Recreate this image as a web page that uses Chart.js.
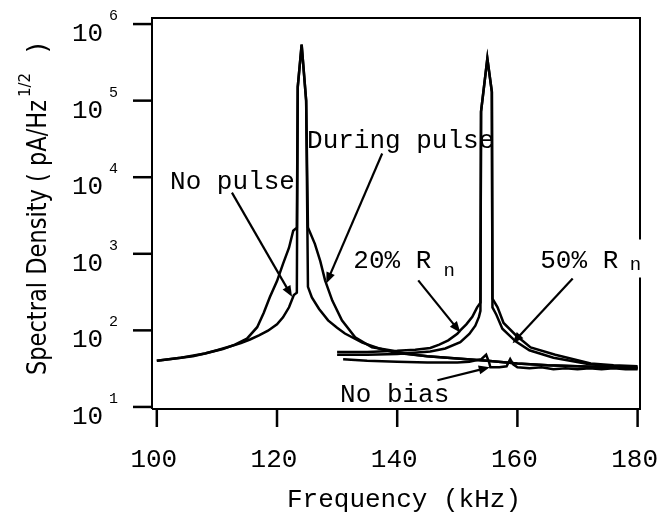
<!DOCTYPE html>
<html>
<head>
<meta charset="utf-8">
<script src="https://cdn.jsdelivr.net/npm/chart.js@4.4.1/dist/chart.umd.min.js"></script>
<style>
  body { margin: 0; background: #fff; }
  #wrap { width: 660px; height: 517px; position: relative; }
</style>
</head>
<body>
<div id="wrap"><canvas id="spectrum"></canvas></div>
<script>
// Frequency (kHz) and spectral density (pA/Hz^1/2)
const noPulseFreq = [100, 102, 104, 106, 108, 110, 112, 114, 115.5, 117, 118.5, 120, 121, 122, 122.8, 123.3, 123.45, 124.1, 124.85, 125.15, 125.8, 127, 128.5, 130, 131.3, 134.2, 137, 139.7, 145, 150, 155, 160, 165, 170, 175, 180];
const noPulseVal  = [40, 42, 44, 46, 50, 55, 61, 68, 76, 86, 99, 120, 148, 200, 290, 310, 150000, 540000, 100000, 370, 270, 190, 135, 108, 91, 69, 58, 51, 46, 43, 40, 37, 35, 34, 33, 33];

const duringFreq = [100, 104, 108, 111, 113, 115, 116.7, 117.8, 118.8, 120, 121, 122, 122.7, 123.3, 123.45, 124.1, 124.85, 125.15, 126.3, 127.2, 128, 129.2, 130.8, 133, 135.8, 138.8, 141.3, 145, 150, 155, 160, 165, 170, 175, 180];
const duringVal  = [40, 44, 50, 57, 65, 78, 110, 170, 270, 440, 740, 1200, 2000, 2200, 150000, 540000, 100000, 2200, 1350, 800, 450, 245, 135, 81, 60, 55, 50, 46, 43, 40, 37, 35, 34, 33, 32];

const rn20Freq = [130, 135, 140, 143, 145.5, 147, 148.5, 150, 150.5, 151.5, 152.5, 153.3, 153.85, 153.95, 155, 155.75, 155.85, 156.7, 157.7, 159.7, 162.2, 166.3, 172.2, 176, 180];
const rn20Val  = [52, 52, 54, 56, 59, 65, 74, 90, 100, 120, 150, 200, 230, 72000, 355000, 130000, 260, 200, 125, 87, 60, 48, 37, 35, 34];

const rn50Freq = [130, 135, 140, 145.5, 148, 150.5, 152, 153, 153.6, 153.85, 153.95, 155, 155.75, 155.85, 156.5, 157.5, 159.7, 162, 166, 172, 180];
const rn50Val  = [48, 48, 49, 53, 58, 70, 90, 115, 150, 180, 72000, 355000, 130000, 200, 160, 105, 72, 55, 44, 36, 32];

const noBiasFreq = [131, 135, 140, 145, 150, 152, 154, 154.8, 155.3, 155.5, 157, 158.2, 158.8, 159.3, 160, 162, 164, 166, 168, 170, 172, 174, 176, 178, 180];
const noBiasVal  = [42, 40, 39, 38, 38, 39, 42, 48, 38, 33, 33, 34, 42, 36, 33, 32, 33, 31, 32, 31, 32, 31, 32, 31, 31];

// Axis ticks
const xTicks = [100, 120, 140, 160, 180];
const yExponents = [1, 2, 3, 4, 5, 6];

// Annotations: text anchor and arrow tail/head, in data units
const labels = [
    { text: 'No pulse', x: 102.2, y: 7100 },
    { text: 'During pulse', x: 125, y: 23800 },
    { text: '20% R', sub: 'n', x: 132.7, y: 645, subX: 147.7, subY: 507 },
    { text: '50% R', sub: 'n', x: 163.8, y: 662, subX: 178.7, subY: 606, clearFrame: true },
    { text: 'No bias', x: 130.5, y: 11.5 }
];
const arrows = [
    { from: [112.5, 6300], to: [122.5, 275] },
    { from: [137.5, 20400], to: [128.2, 410] },
    { from: [143.5, 450], to: [150.5, 94] },
    { from: [169.2, 477], to: [159.2, 68] },
    { from: [146.7, 22.3], to: [155.4, 33] }
];

function toPoints(xs, ys) {
    return xs.map((x, i) => ({ x: x, y: ys[i] }));
}

function makeSet(label, xs, ys) {
    return {
        label: label,
        data: toPoints(xs, ys),
        borderColor: '#000',
        borderWidth: 2.5,
        pointRadius: 0,
        tension: 0,
        fill: false
    };
}

const MONO = '"Liberation Mono", "Courier New", monospace';
const SANS = '"DejaVu Sans", sans-serif';

function drawArrow(ctx, x1, y1, x2, y2) {
    const ang = Math.atan2(y2 - y1, x2 - x1);
    const len = 11, half = 4.5;
    ctx.beginPath();
    ctx.moveTo(x1, y1);
    ctx.lineTo(x2 - Math.cos(ang) * len * 0.8, y2 - Math.sin(ang) * len * 0.8);
    ctx.stroke();
    ctx.beginPath();
    ctx.moveTo(x2, y2);
    ctx.lineTo(x2 - Math.cos(ang) * len - Math.sin(ang) * half, y2 - Math.sin(ang) * len + Math.cos(ang) * half);
    ctx.lineTo(x2 - Math.cos(ang) * len + Math.sin(ang) * half, y2 - Math.sin(ang) * len - Math.cos(ang) * half);
    ctx.closePath();
    ctx.fill();
}

// Frame, ticks, labels and annotations
const decorPlugin = {
    id: 'decor',
    afterDatasetsDraw(chart) {
        const ctx = chart.ctx;
        const area = chart.chartArea;
        const xs = chart.scales.x;
        const ys = chart.scales.y;
        ctx.save();
        ctx.strokeStyle = '#000';
        ctx.fillStyle = '#000';

        // annotations
        ctx.lineWidth = 2.2;
        arrows.forEach(a => {
            drawArrow(ctx,
                xs.getPixelForValue(a.from[0]), ys.getPixelForValue(a.from[1]),
                xs.getPixelForValue(a.to[0]), ys.getPixelForValue(a.to[1]));
        });
        ctx.textAlign = 'left';
        ctx.textBaseline = 'alphabetic';
        labels.forEach(l => {
            const px = xs.getPixelForValue(l.x);
            const py = ys.getPixelForValue(l.y);
            ctx.font = '26px ' + MONO;
            if (l.clearFrame) {
                ctx.fillStyle = '#fff';
                ctx.fillRect(px - 2, py - 28, area.right - px + 6, 38);
                ctx.fillStyle = '#000';
            }
            ctx.fillText(l.text, px, py);
            if (l.sub) {
                ctx.font = '19px ' + MONO;
                ctx.fillText(l.sub, xs.getPixelForValue(l.subX), ys.getPixelForValue(l.subY));
            }
        });

        // frame
        ctx.lineWidth = 2;
        ctx.beginPath();
        ctx.moveTo(area.left, area.bottom);
        ctx.lineTo(area.left, area.top);
        ctx.lineTo(area.right, area.top);
        const gap = labels.find(l => l.clearFrame);
        if (gap) {
            const py = ys.getPixelForValue(gap.y);
            ctx.lineTo(area.right, py - 28);
            ctx.moveTo(area.right, py + 10);
        }
        ctx.lineTo(area.right, area.bottom);
        ctx.lineTo(area.left, area.bottom);
        ctx.stroke();

        // y ticks (decades) with 10^n labels
        ctx.lineWidth = 2.5;
        yExponents.forEach(e => {
            const py = ys.getPixelForValue(Math.pow(10, e));
            ctx.beginPath();
            ctx.moveTo(area.left - 19, py);
            ctx.lineTo(area.left, py);
            ctx.stroke();
            ctx.font = '26px ' + MONO;
            ctx.fillText('10', 72, py + 17);
            ctx.font = '15px ' + MONO;
            ctx.fillText(String(e), 109, py - 4);
        });

        // x ticks
        ctx.textAlign = 'center';
        xTicks.forEach(t => {
            const px = xs.getPixelForValue(t);
            ctx.beginPath();
            ctx.moveTo(px, area.bottom);
            ctx.lineTo(px, area.bottom + 18);
            ctx.stroke();
            ctx.font = '26px ' + MONO;
            ctx.fillText(String(t), px - 3, 467);
        });

        // x title
        ctx.font = '26px ' + MONO;
        ctx.fillText('Frequency (kHz)', (area.left + area.right) / 2 + 8, 507);

        // y title, rotated, with superscript
        ctx.translate(46, 375);
        ctx.rotate(-Math.PI / 2);
        ctx.textAlign = 'left';
        ctx.font = '26px ' + SANS;
        const main = 'Spectral Density ( pA/Hz';
        const sx = 275 / ctx.measureText(main).width;
        ctx.save();
        ctx.scale(sx, 1);
        ctx.fillText(main, 0, 0);
        ctx.restore();
        ctx.font = '15px ' + SANS;
        ctx.fillText('1/2', 278, -16);
        ctx.font = '26px ' + SANS;
        ctx.fillText(')', 322, 0);
        ctx.restore();
    }
};

const ctx = document.getElementById('spectrum').getContext('2d');
const chart = new Chart(ctx, {
    type: 'line',
    data: {
        datasets: [
            makeSet('No pulse', noPulseFreq, noPulseVal),
            makeSet('During pulse', duringFreq, duringVal),
            makeSet('20% Rn', rn20Freq, rn20Val),
            makeSet('50% Rn', rn50Freq, rn50Val),
            makeSet('No bias', noBiasFreq, noBiasVal)
        ]
    },
    options: {
        responsive: true,
        maintainAspectRatio: false,
        animation: false,
        layout: { padding: { left: 152, top: 18, right: 20, bottom: 108 } },
        plugins: {
            legend: { display: false },
            tooltip: { enabled: false }
        },
        scales: {
            x: { type: 'linear', min: 99.2, max: 180.4, display: false },
            y: { type: 'logarithmic', min: 9.4, max: 1.2e6, display: false }
        }
    },
    plugins: [decorPlugin]
});
</script>
</body>
</html>
